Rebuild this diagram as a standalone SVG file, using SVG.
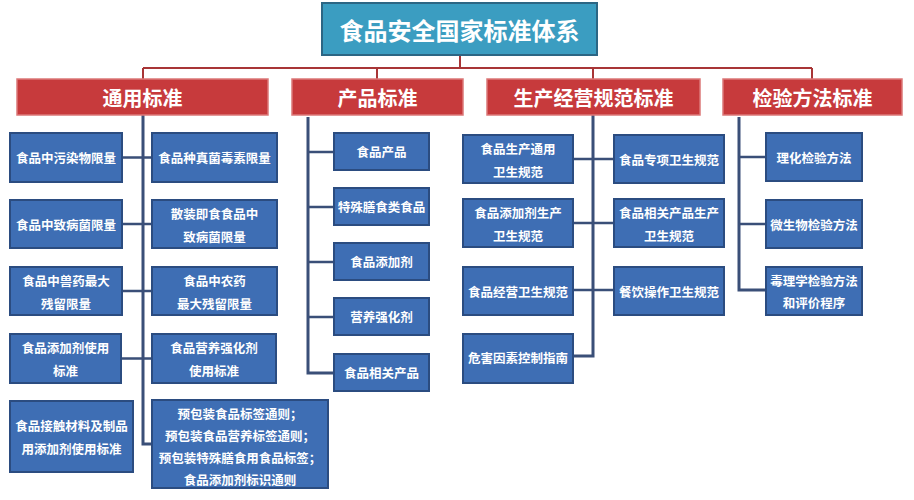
<svg xmlns="http://www.w3.org/2000/svg" width="914" height="500" viewBox="0 0 914 500">
<style>
  .title{fill:#3b9dc1;stroke:#2c6684;stroke-width:2}
  .hdr{fill:#c73a3c;stroke:#dc7878;stroke-width:1.5}
  .box{fill:#3e6eb4;stroke:#2b4c80;stroke-width:2}
  .tt{font-family:"Noto Sans CJK SC","Noto Sans",sans-serif;font-weight:bold;fill:#ffffff;text-anchor:middle;dominant-baseline:central}
  .t1{font-size:24px}
  .t2{font-size:20px}
  .t3{font-size:12.5px}
  .red{fill:none;stroke:#a83536;stroke-width:2}
  .ln{fill:none;stroke:#3a4f78;stroke-width:3}
  .hl{fill:none;stroke:#3a4f78;stroke-width:2.5}
</style>
<rect width="914" height="500" fill="#ffffff"/>
<g id="connectors">
  <path class="red" d="M460 55 V68 M143 68 H812 M143 68 V79 M377 68 V79 M593 68 V79 M812 68 V79"/>
  <path class="ln" d="M143 115 V444 H152"/>
  <path class="hl" d="M122 157.5 H152 M122 224 H152 M122 291 H152 M122 358.5 H152"/>
  <path class="ln" d="M308 117 V373 H334"/>
  <path class="hl" d="M308 152 H334 M308 207 H334 M308 262 H334 M308 317 H334"/>
  <path class="ln" d="M593 115 V356 H573"/>
  <path class="hl" d="M573 159 H614 M573 223 H614 M573 290 H614"/>
  <path class="ln" d="M739 117 V290 H766"/>
  <path class="hl" d="M739 157 H766 M739 224 H766"/>
</g>
<g id="root"><rect class="title" x="322" y="3" width="275" height="52"/><text class="tt t1" x="459.5" y="29">食品安全国家标准体系</text></g>
<g id="h1"><rect class="hdr" x="17" y="79" width="251" height="36"/><text class="tt t2" x="142.5" y="97">通用标准</text></g>
<g id="h2"><rect class="hdr" x="292" y="79" width="171" height="36"/><text class="tt t2" x="377.5" y="97">产品标准</text></g>
<g id="h3"><rect class="hdr" x="487" y="79" width="213" height="36"/><text class="tt t2" x="593.5" y="97">生产经营规范标准</text></g>
<g id="h4"><rect class="hdr" x="723" y="79" width="179" height="36"/><text class="tt t2" x="812.5" y="97">检验方法标准</text></g>

<g id="a1"><rect class="box" x="10" y="133" width="112" height="49"/><text class="tt t3" x="66" y="157.5">食品中污染物限量</text></g>
<g id="a2"><rect class="box" x="152" y="133" width="125" height="49"/><text class="tt t3" x="214.5" y="157.5">食品种真菌毒素限量</text></g>
<g id="a3"><rect class="box" x="10" y="200" width="112" height="48"/><text class="tt t3" x="66" y="224">食品中致病菌限量</text></g>
<g id="a4"><rect class="box" x="152" y="200" width="125" height="48"/><text class="tt t3" x="214.5" y="213">散装即食食品中</text><text class="tt t3" x="214.5" y="236">致病菌限量</text></g>
<g id="a5"><rect class="box" x="10" y="267" width="112" height="48"/><text class="tt t3" x="66" y="280">食品中兽药最大</text><text class="tt t3" x="66" y="303">残留限量</text></g>
<g id="a6"><rect class="box" x="152" y="267" width="125" height="48"/><text class="tt t3" x="214.5" y="280">食品中农药</text><text class="tt t3" x="214.5" y="303">最大残留限量</text></g>
<g id="a7"><rect class="box" x="10" y="334" width="111" height="49"/><text class="tt t3" x="65.5" y="347">食品添加剂使用</text><text class="tt t3" x="65.5" y="370">标准</text></g>
<g id="a8"><rect class="box" x="152" y="334" width="124" height="49"/><text class="tt t3" x="214" y="347">食品营养强化剂</text><text class="tt t3" x="214" y="370">使用标准</text></g>
<g id="a9"><rect class="box" x="10" y="401" width="123" height="71"/><text class="tt t3" x="71.5" y="425">食品接触材料及制品</text><text class="tt t3" x="71.5" y="448">用添加剂使用标准</text></g>
<g id="a10"><rect class="box" x="152" y="400" width="176" height="88"/><text class="tt t3" x="240" y="413">预包装食品标签通则；</text><text class="tt t3" x="240" y="435">预包装食品营养标签通则；</text><text class="tt t3" x="240" y="457">预包装特殊膳食用食品标签；</text><text class="tt t3" x="240" y="479">食品添加剂标识通则</text></g>

<g id="b1"><rect class="box" x="334" y="133" width="95" height="37"/><text class="tt t3" x="381.5" y="151.5">食品产品</text></g>
<g id="b2"><rect class="box" x="334" y="188" width="95" height="37"/><text class="tt t3" x="381.5" y="206.5">特殊膳食类食品</text></g>
<g id="b3"><rect class="box" x="334" y="243" width="95" height="37"/><text class="tt t3" x="381.5" y="261.5">食品添加剂</text></g>
<g id="b4"><rect class="box" x="334" y="298" width="95" height="37"/><text class="tt t3" x="381.5" y="316.5">营养强化剂</text></g>
<g id="b5"><rect class="box" x="334" y="354" width="95" height="37"/><text class="tt t3" x="381.5" y="372.5">食品相关产品</text></g>

<g id="c1"><rect class="box" x="463" y="135" width="110" height="48"/><text class="tt t3" x="518" y="148">食品生产通用</text><text class="tt t3" x="518" y="171">卫生规范</text></g>
<g id="c2"><rect class="box" x="614" y="135" width="110" height="48"/><text class="tt t3" x="669" y="159">食品专项卫生规范</text></g>
<g id="c3"><rect class="box" x="463" y="199" width="110" height="48"/><text class="tt t3" x="518" y="212">食品添加剂生产</text><text class="tt t3" x="518" y="235">卫生规范</text></g>
<g id="c4"><rect class="box" x="614" y="199" width="110" height="48"/><text class="tt t3" x="669" y="212">食品相关产品生产</text><text class="tt t3" x="669" y="235">卫生规范</text></g>
<g id="c5"><rect class="box" x="463" y="267" width="110" height="48"/><text class="tt t3" x="518" y="291">食品经营卫生规范</text></g>
<g id="c6"><rect class="box" x="614" y="267" width="110" height="48"/><text class="tt t3" x="669" y="291">餐饮操作卫生规范</text></g>
<g id="c7"><rect class="box" x="463" y="334" width="110" height="49"/><text class="tt t3" x="518" y="357">危害因素控制指南</text></g>

<g id="d1"><rect class="box" x="766" y="133" width="96" height="48"/><text class="tt t3" x="814" y="157">理化检验方法</text></g>
<g id="d2"><rect class="box" x="766" y="200" width="96" height="48"/><text class="tt t3" x="814" y="224">微生物检验方法</text></g>
<g id="d3"><rect class="box" x="766" y="267" width="96" height="48"/><text class="tt t3" x="814" y="280">毒理学检验方法</text><text class="tt t3" x="814" y="302">和评价程序</text></g>
</svg>
